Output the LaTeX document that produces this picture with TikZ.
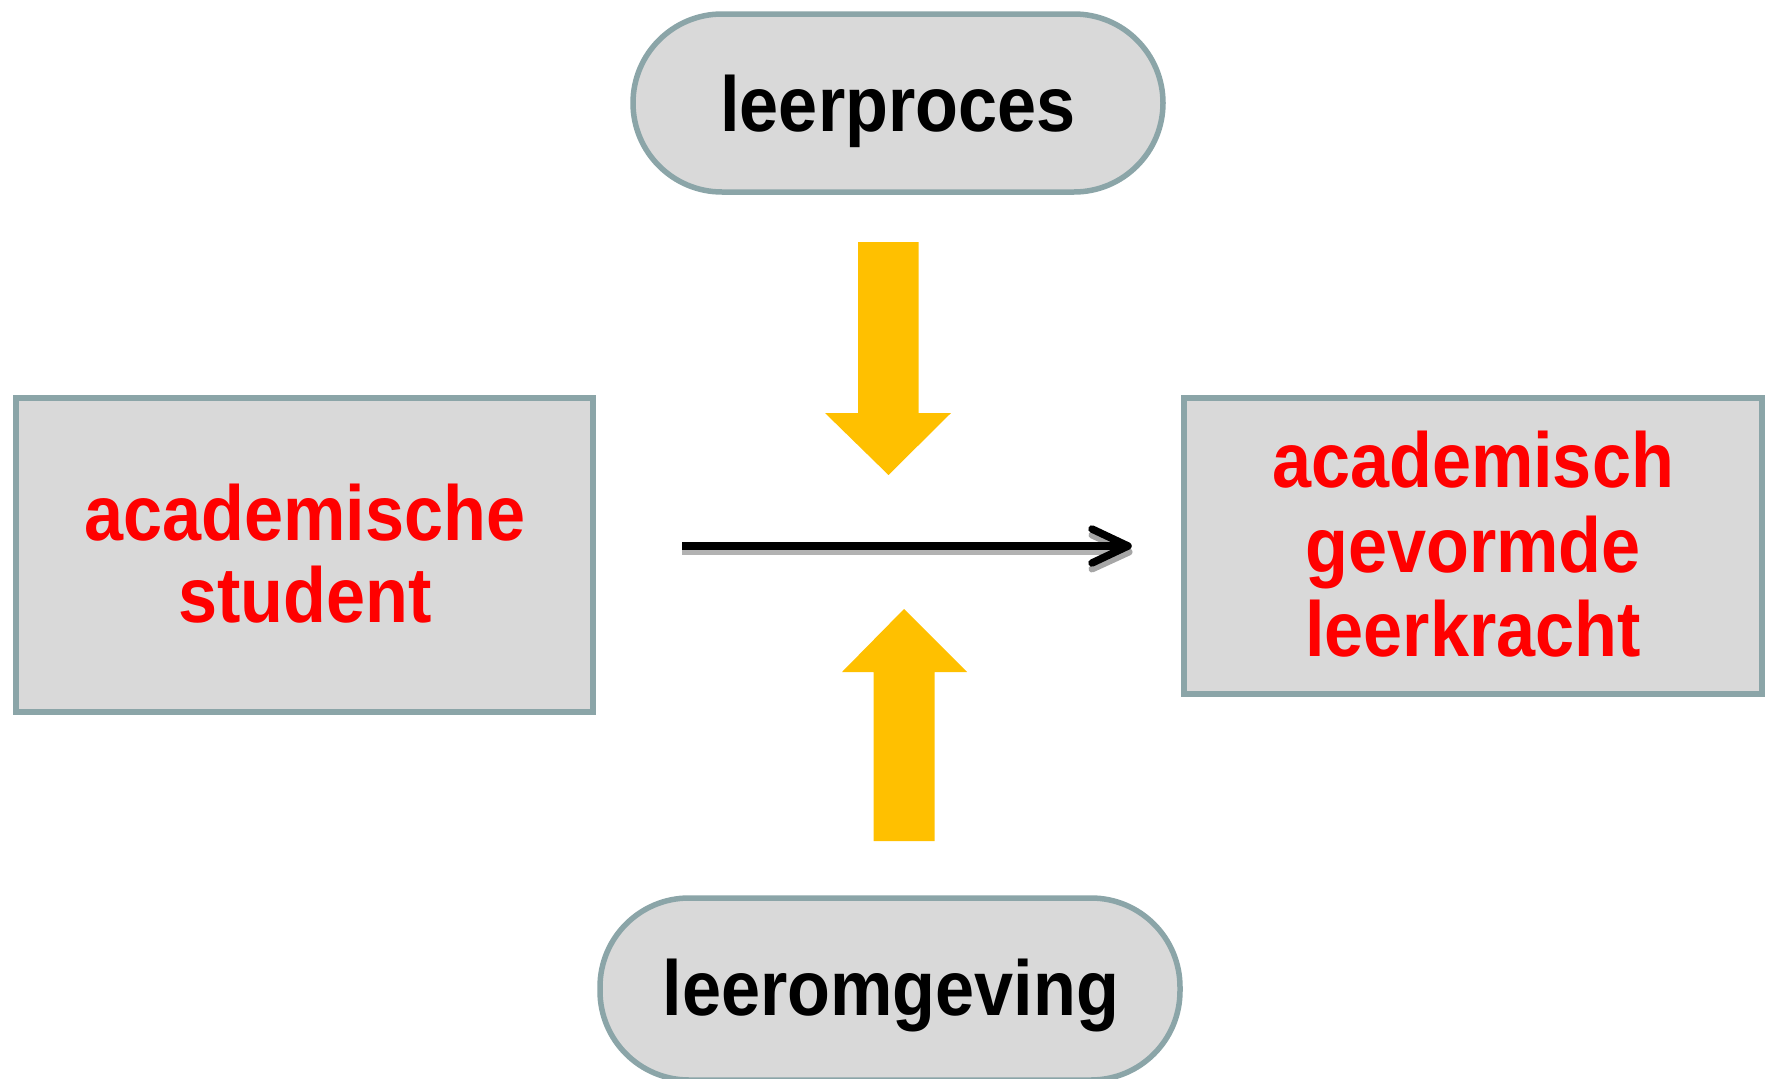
\documentclass[tikz,border=0pt]{standalone}
\usepackage{fontspec}
\setmainfont{Liberation Sans}[FakeStretch=0.9]
\usetikzlibrary{calc}
\definecolor{bordc}{RGB}{139,165,168}
\definecolor{fillc}{RGB}{217,217,217}
\definecolor{arrowy}{RGB}{255,192,0}
\begin{document}
\begin{tikzpicture}[x=1pt,y=-1pt,
  box/.style={draw=bordc,fill=fillc,line width=5.5pt,inner sep=0pt},
  stad/.style={box,rounded corners=89pt},
  lbl/.style={anchor=base,inner sep=0pt,font=\fontsize{78}{80}\selectfont\bfseries},
  redlbl/.style={lbl,text=red},
  blk/.style={fill=arrowy,draw=none}]
\useasboundingbox (0,0) rectangle (1765,1079);
% shapes
\node[stad,minimum width=530pt,minimum height=178pt] (lp) at (898,103) {};
\node[stad,minimum width=580pt,minimum height=182pt] (lo) at (890,989) {};
\node[box,minimum width=577pt,minimum height=314pt] (ls) at (304.5,555) {};
\node[box,minimum width=578pt,minimum height=296pt] (lk) at (1473,546) {};
% texts
\node[lbl] (lpt) at (898,131.5) {leerproces};
\node[lbl] (lot) at (891,1015) {leeromgeving};
\node[redlbl] (ls1) at (305,540) {academische};
\node[redlbl] (ls2) at (305,622.5) {student};
\node[redlbl] (lk1) at (1473,487.5) {academisch};
\node[redlbl] (lk2) at (1473,572) {gevormde};
\node[redlbl] (lk3) at (1473,656) {leerkracht};
% yellow block arrows
\fill[blk] (858,242) -- (918.5,242) -- (918.5,413) -- (951,413) -- (888.5,475)
  -- (825,413) -- (858,413) -- cycle;
\fill[blk] (873.5,841) -- (934.5,841) -- (934.5,672) -- (967,672) -- (904,609)
  -- (842,672) -- (873.5,672) -- cycle;
% black arrow
\coordinate (as) at (682,546);
\coordinate (ae) at (1128,546);
\draw[line width=7pt,black!35,line cap=round,line join=round]
  ($(ae)+(-36,-11)$) -- ($(ae)+(1,6)$) -- ($(ae)+(-36,23)$);
\draw[line width=7pt,black!30] ($(as)+(0,5)$) -- ($(ae)+(-8,5)$);
\draw[line width=7.5pt,black] (as) -- ($(ae)+(-6,0)$);
\draw[line width=7.5pt,black,line cap=round,line join=round]
  ($(ae)+(-36,-17)$) -- (ae) -- ($(ae)+(-36,17)$);
\end{tikzpicture}
\end{document}
